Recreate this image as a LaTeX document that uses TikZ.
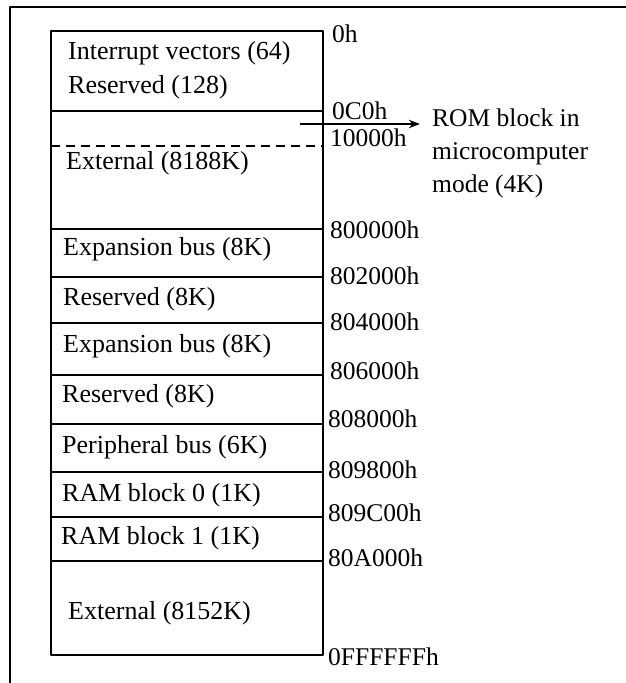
\documentclass[tikz,border=0pt]{standalone}
\usepackage{fontspec}
\setmainfont{Liberation Serif}
\usetikzlibrary{arrows.meta}

\begin{document}
\begin{tikzpicture}[x=1pt,y=-1pt,>=Stealth,line join=round,
    lbl/.style={anchor=west,inner sep=0pt,font=\fontsize{26}{30}\selectfont},
    addr/.style={anchor=west,inner sep=0pt,font=\fontsize{25.5}{30}\selectfont}]
    \useasboundingbox (0,0) rectangle (626,683);
    \coordinate (FL) at (10,683);
    \coordinate (FT) at (10,7);
    \coordinate (FR) at (626,7);
    \draw[line width=2.4pt] (FL)--(FT)--(FR);
    % memory map
    \draw[line width=1.8pt] (51,31) rectangle (323,655);
    \draw[line width=1.8pt] (51,111)--(323,111);
    \draw[line width=1.4pt,dash pattern=on 9pt off 6pt] (51,146)--(323,146);
    \draw[line width=1.8pt] (51,229)--(323,229);
    \draw[line width=1.8pt] (51,277)--(323,277);
    \draw[line width=1.8pt] (51,323)--(323,323);
    \draw[line width=1.8pt] (51,375)--(323,375);
    \draw[line width=1.8pt] (51,424)--(323,424);
    \draw[line width=1.8pt] (51,472)--(323,472);
    \draw[line width=1.8pt] (51,517)--(323,517);
    \draw[line width=1.8pt] (51,561)--(323,561);
    \node[lbl] (iv) at (68,53){Interrupt vectors (64)};
    \node[lbl] (res0) at (68,87){Reserved (128)};
    \node[lbl] (ext0) at (66,163){External (8188K)};
    \node[lbl] (exp0) at (63,249){Expansion bus (8K)};
    \node[lbl] (res1) at (63,299){Reserved (8K)};
    \node[lbl] (exp1) at (63,346){Expansion bus (8K)};
    \node[lbl] (res2) at (62,396){Reserved (8K)};
    \node[lbl] (per) at (62,447){Peripheral bus (6K)};
    \node[lbl] (ram0) at (62,495){RAM block 0 (1K)};
    \node[lbl] (ram1) at (61,538){RAM block 1 (1K)};
    \node[lbl] (ext1) at (68,613){External (8152K)};
    % addresses
    \node[addr] (a0) at (332,34){0h};
    \node[addr] (a1) at (332,111){0C0h};
    \node[addr] (a2) at (330,138){10000h};
    \node[addr] (a3) at (330,230){800000h};
    \node[addr] (a4) at (330,276){802000h};
    \node[addr] (a5) at (330,322){804000h};
    \node[addr] (a6) at (330,371){806000h};
    \node[addr] (a7) at (328,419){808000h};
    \node[addr] (a8) at (328,470){809800h};
    \node[addr] (a9) at (328,513){809C00h};
    \node[addr] (a10) at (328,558){80A000h};
    \node[addr] (a11) at (328,657){0FFFFFFh};
    % ROM block
    \node[addr,anchor=north west,align=left] (rom) at (432,109)
        {ROM block in\\[3pt]microcomputer\\[3pt]mode (4K)};
    \coordinate (romtail) at (300,124);
    \coordinate (romtip) at (420,124);
    \draw[->,line width=1.8pt] (romtail)--(romtip);
\end{tikzpicture}
\end{document}
